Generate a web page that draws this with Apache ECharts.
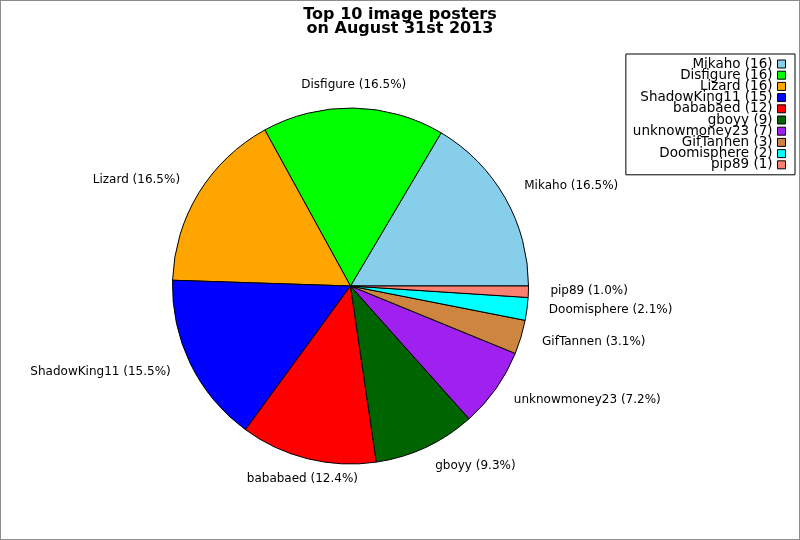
<!DOCTYPE html>
<html>
<head>
<meta charset="utf-8">
<script src="https://cdn.jsdelivr.net/npm/echarts@6/dist/echarts.min.js"></script>
<style>
  html, body { margin: 0; padding: 0; background: #fff; }
  #wrap { position: relative; width: 800px; height: 540px; }
  #main { position: absolute; left: 0; top: 0; width: 800px; height: 540px; }
  #frame { position: absolute; left: 0; top: 0; width: 800px; height: 540px; box-sizing: border-box; border: 1px solid #8c8c8c; pointer-events: none; }
</style>
</head>
<body>
<div id="wrap"><div id="main"></div><div id="frame"></div></div>
<script>
const titleText = 'Top 10 image posters\non August 31st 2013';
const names = ['Mikaho', 'Disfigure', 'Lizard', 'ShadowKing11', 'bababaed', 'gboyy', 'unknowmoney23', 'GifTannen', 'Doomisphere', 'pip89'];
const counts = [16, 16, 16, 15, 12, 9, 7, 3, 2, 1];
const colors = ['#87CEEB', '#00FF00', '#FFA500', '#0000FF', '#FF0000', '#006400', '#A020F0', '#CD853F', '#00FFFF', '#FA8072'];

const total = counts.reduce((a, b) => a + b, 0);
const FONT = 'DejaVu Sans';

// which labels are centred horizontally (slices pointing nearly straight up/down)
const cum = [];
counts.reduce((acc, v, i) => { cum[i] = acc; return acc + v; }, 0);
const centred = counts.map((v, i) => {
  const ang = (cum[i] + v / 2) / total * 2 * Math.PI;
  return Math.abs(Math.cos(ang)) < 0.3;
});

const chart = echarts.init(document.getElementById('main'), null, { renderer: 'canvas' });
chart.setOption({
  animation: false,
  backgroundColor: '#fff',
  title: {
    text: titleText,
    left: 'center',
    top: 3,
    textStyle: { fontFamily: FONT, fontSize: 16, fontWeight: 'bold', color: '#000', lineHeight: 14 }
  },
  legend: {
    orient: 'vertical',
    right: 5,
    top: 54,
    align: 'right',
    padding: [3, 9, 3, 7],
    itemGap: -2.8,
    itemWidth: 8,
    itemHeight: 8,
    borderColor: '#000',
    borderWidth: 1,
    borderRadius: 0,
    backgroundColor: '#fff',
    icon: 'rect',
    itemStyle: { borderColor: '#000', borderWidth: 1 },
    textStyle: { fontFamily: FONT, fontSize: 13.5, color: '#000', lineHeight: 11 },
    formatter: function (name) {
      const i = names.indexOf(name);
      return name + ' (' + counts[i] + ')';
    },
    data: names
  },
  series: [{
    type: 'pie',
    center: [350.5, 286],
    radius: 178,
    startAngle: 0,
    clockwise: false,
    avoidLabelOverlap: false,
    minShowLabelAngle: 0,
    color: colors,
    itemStyle: { borderColor: '#000', borderWidth: 1 },
    emphasis: { disabled: true },
    label: {
      show: true,
      position: 'outside',
      distanceToLabelLine: 0,
      fontFamily: FONT,
      fontSize: 12,
      color: '#000',
      formatter: function (p) {
        return p.name + ' (' + (p.value / total * 100).toFixed(1) + '%)';
      }
    },
    labelLine: { show: false, length: 22, length2: 0 },
    labelLayout: function (params) {
      const i = params.dataIndex;
      const o = { dy: -1.5 };
      if (centred[i]) o.align = 'center';
      return o;
    },
    data: names.map((n, i) => ({ name: n, value: counts[i] }))
  }]
});
</script>
</body>
</html>
